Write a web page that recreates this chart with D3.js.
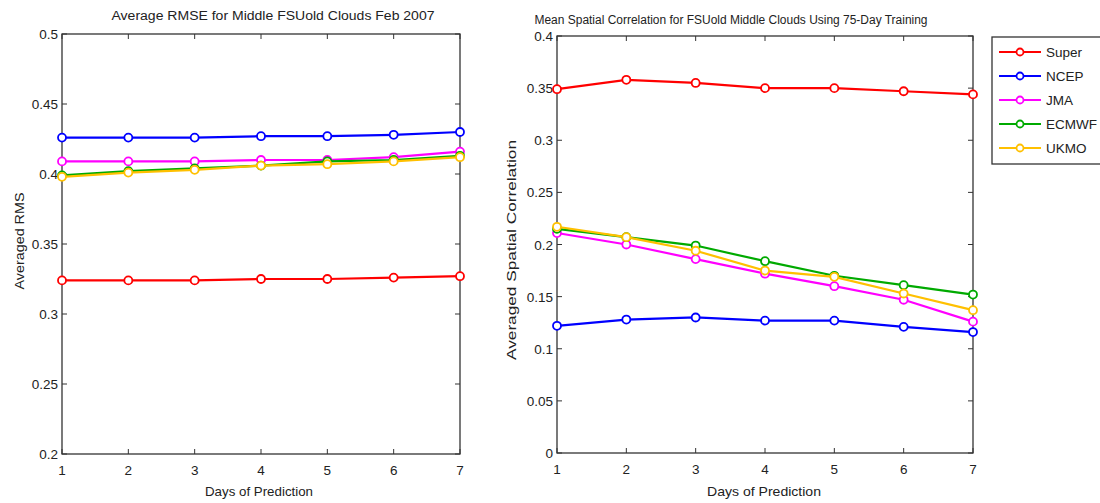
<!DOCTYPE html>
<html>
<head>
<meta charset="utf-8">
<script src="https://cdn.jsdelivr.net/npm/d3@7"></script>
<style>
  body { margin: 0; background: #fff; }
  svg { display: block; font-family: "Liberation Sans", Arial, sans-serif; }
</style>
</head>
<body>
<div id="chart"></div>
<script>
// ─── Data ───
const days = [1, 2, 3, 4, 5, 6, 7];
const models = ["Super", "NCEP", "JMA", "ECMWF", "UKMO"];
const modelColors = ["#ff0000", "#0000ff", "#ff00ff", "#00aa00", "#ffc000"];

// left panel: averaged RMSE
const rmseSuper = [0.324, 0.324, 0.324, 0.325, 0.325, 0.326, 0.327];
const rmseNCEP  = [0.426, 0.426, 0.426, 0.427, 0.427, 0.428, 0.430];
const rmseJMA   = [0.409, 0.409, 0.409, 0.410, 0.410, 0.412, 0.416];
const rmseECMWF = [0.399, 0.402, 0.404, 0.406, 0.409, 0.410, 0.413];
const rmseUKMO  = [0.398, 0.401, 0.403, 0.406, 0.407, 0.409, 0.412];

// right panel: spatial correlation
const corrSuper = [0.349, 0.358, 0.355, 0.350, 0.350, 0.347, 0.344];
const corrNCEP  = [0.122, 0.128, 0.130, 0.127, 0.127, 0.121, 0.116];
const corrJMA   = [0.211, 0.200, 0.186, 0.172, 0.160, 0.147, 0.126];
const corrECMWF = [0.215, 0.207, 0.199, 0.184, 0.170, 0.161, 0.152];
const corrUKMO  = [0.217, 0.207, 0.194, 0.175, 0.169, 0.153, 0.137];

const rmseTicks = [0.2, 0.25, 0.3, 0.35, 0.4, 0.45, 0.5];
const corrTicks = [0, 0.05, 0.1, 0.15, 0.2, 0.25, 0.3, 0.35, 0.4];

const W = 1100, H = 503;
const AXIS = "#333";
const TXT = "#222";

const svg = d3.select("#chart").append("svg")
  .attr("width", W).attr("height", H);

// text helper: optional stretched width to match the reference's wide glyphs
function label(g, x, y, str, size, len, anchor = "middle") {
  const t = g.append("text").attr("x", x).attr("y", y)
    .attr("text-anchor", anchor).attr("font-size", size).attr("fill", TXT)
    .text(str);
  if (len) t.attr("textLength", len).attr("lengthAdjust", "spacingAndGlyphs");
  return t;
}

function panel(opts) {
  const { x0, x1, y0, y1, domain, ticks, series } = opts;
  const x = d3.scaleLinear().domain([1, 7]).range([x0, x1]);
  const y = d3.scaleLinear().domain(domain).range([y1, y0]);
  const g = svg.append("g");

  // box
  g.append("rect")
    .attr("x", x0).attr("y", y0)
    .attr("width", x1 - x0).attr("height", y1 - y0)
    .attr("fill", "none").attr("stroke", AXIS).attr("stroke-width", 1.3);

  // ticks on all four sides, pointing inward
  const tl = 5;
  days.forEach((d) => {
    g.append("line").attr("x1", x(d)).attr("x2", x(d)).attr("y1", y1).attr("y2", y1 - tl)
      .attr("stroke", AXIS);
    g.append("line").attr("x1", x(d)).attr("x2", x(d)).attr("y1", y0).attr("y2", y0 + tl)
      .attr("stroke", AXIS);
    label(g, x(d), y1 + 21, d, 13.5);
  });
  ticks.forEach((t) => {
    g.append("line").attr("x1", x0).attr("x2", x0 + tl).attr("y1", y(t)).attr("y2", y(t))
      .attr("stroke", AXIS);
    g.append("line").attr("x1", x1).attr("x2", x1 - tl).attr("y1", y(t)).attr("y2", y(t))
      .attr("stroke", AXIS);
    label(g, x0 - 4, y(t) + 5, d3.format("~g")(t), 13.5, null, "end");
  });

  // series
  const line = d3.line().x((d, i) => x(days[i])).y((d) => y(d));
  series.forEach((vals, k) => {
    g.append("path").datum(vals)
      .attr("d", line)
      .attr("fill", "none")
      .attr("stroke", modelColors[k])
      .attr("stroke-width", 2.2);
    g.selectAll(null).data(vals).join("circle")
      .attr("cx", (d, i) => x(days[i]))
      .attr("cy", (d) => y(d))
      .attr("r", 4)
      .attr("fill", "#fff")
      .attr("stroke", modelColors[k])
      .attr("stroke-width", 1.8);
  });

  // titles & labels
  const t = opts.title, xl = opts.xlabel, yl = opts.ylabel;
  label(g, t.cx, t.y, t.text, 12.5, t.len);
  label(g, xl.cx, 496, "Days of Prediction", 13, xl.len);
  label(g, 0, 0, yl.text, 13, yl.len)
    .attr("transform", `translate(${yl.x},${yl.cy}) rotate(-90)`);
}

panel({
  x0: 62, x1: 460, y0: 34, y1: 454,
  domain: [0.2, 0.5], ticks: rmseTicks,
  series: [rmseSuper, rmseNCEP, rmseJMA, rmseECMWF, rmseUKMO],
  title: { text: "Average RMSE for Middle FSUold Clouds Feb 2007", cx: 273, y: 20, len: 323 },
  xlabel: { cx: 259, len: 108 },
  ylabel: { text: "Averaged RMS", x: 24, cy: 241, len: 97 },
});

panel({
  x0: 557, x1: 973, y0: 36, y1: 453,
  domain: [0, 0.4], ticks: corrTicks,
  series: [corrSuper, corrNCEP, corrJMA, corrECMWF, corrUKMO],
  title: { text: "Mean Spatial Correlation for FSUold Middle Clouds Using 75-Day Training", cx: 731, y: 24, len: 393 },
  xlabel: { cx: 764, len: 114 },
  ylabel: { text: "Averaged Spatial Correlation", x: 516, cy: 250, len: 220 },
});

// ─── Legend ───
const lg = svg.append("g");
lg.append("rect")
  .attr("x", 992).attr("y", 37).attr("width", 120).attr("height", 127)
  .attr("fill", "#fff").attr("stroke", AXIS).attr("stroke-width", 1.3);
const ly = d3.scalePoint().domain(models).range([52, 148]);
models.forEach((m, k) => {
  lg.append("line").attr("x1", 999).attr("x2", 1041)
    .attr("y1", ly(m)).attr("y2", ly(m))
    .attr("stroke", modelColors[k]).attr("stroke-width", 2.2);
  lg.append("circle").attr("cx", 1020).attr("cy", ly(m)).attr("r", 3.5)
    .attr("fill", "#fff").attr("stroke", modelColors[k]).attr("stroke-width", 1.8);
  label(lg, 1046, ly(m) + 5, m, 13.5, null, "start");
});
</script>
</body>
</html>
